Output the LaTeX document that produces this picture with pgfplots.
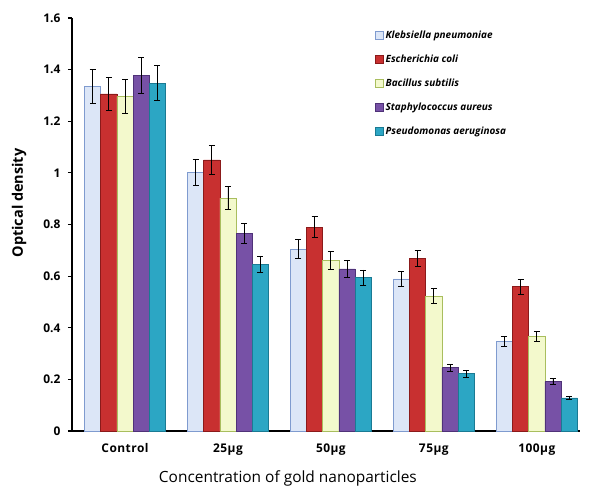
\documentclass[border=0pt]{standalone}
\usepackage{fontspec}
\setmainfont{Open Sans}
\usepackage{pgfplots}
\pgfplotsset{compat=1.18}
\usepackage{pgfplotstable}

\definecolor{Kf}{HTML}{DCE6F7}\definecolor{Kd}{HTML}{7F9BCF}
\definecolor{Ef}{HTML}{C83030}\definecolor{Ed}{HTML}{8B1A1A}
\definecolor{Bf}{HTML}{F3F9CC}\definecolor{Bd}{HTML}{A9BE5E}
\definecolor{Sf}{HTML}{7751A6}\definecolor{Sd}{HTML}{4F3278}
\definecolor{Pf}{HTML}{2CA6C4}\definecolor{Pd}{HTML}{1A7A93}

\pgfplotstableread{
x y e
0 1.334 0.066
1 1.003 0.050
2 0.704 0.037
3 0.589 0.030
4 0.346 0.019
}\tabK
\pgfplotstableread{
x y e
0 1.306 0.064
1 1.050 0.056
2 0.790 0.040
3 0.670 0.031
4 0.559 0.028
}\tabE
\pgfplotstableread{
x y e
0 1.296 0.066
1 0.902 0.045
2 0.660 0.035
3 0.523 0.028
4 0.368 0.019
}\tabB
\pgfplotstableread{
x y e
0 1.377 0.070
1 0.766 0.038
2 0.628 0.032
3 0.245 0.014
4 0.191 0.011
}\tabS
\pgfplotstableread{
x y e
0 1.348 0.068
1 0.646 0.032
2 0.594 0.030
3 0.222 0.013
4 0.128 0.007
}\tabP

\begin{document}
\begin{tikzpicture}
\begin{axis}[
  scale only axis,
  width=508bp, height=413bp,
  ybar=0pt, bar width=16.2bp,
  xmin=-0.515, xmax=4.42,
  ymin=0, ymax=1.6,
  axis x line=bottom, axis y line=left,
  axis line style={line width=2bp,-},
  xtick={0,1,2,3,4},
  xticklabels={Control,25µg,50µg,75µg,100µg},
  x tick style={draw=none},
  ytick={0,0.2,...,1.6},
  yticklabels={0,0.2,0.4,0.6,0.8,1,1.2,1.4,1.6},
  tick align=outside,
  y tick style={line width=1.2bp,black},
  major tick length=4bp,
  /pgf/number format/assume math mode=true,
  yticklabel style={font=\bfseries\fontsize{12}{14}\selectfont, xshift=-4bp},
  xticklabel style={font=\bfseries\fontsize{12}{14}\selectfont\addfontfeatures{LetterSpace=4}, yshift=-5bp},
  xlabel={Concentration of gold nanoparticles},
  ylabel={Optical density},
  every axis x label/.style={at={(axis description cs:0.425,-0.116)}, anchor=center, font=\fontsize{15.5}{17}\selectfont},
  every axis y label/.style={at={(axis description cs:-0.104,0.552)}, anchor=center, rotate=90, font=\bfseries\fontsize{14.5}{16}\selectfont},
  legend style={at={(axis description cs:0.59,0.98)}, anchor=north west, draw=none, fill=none,
    font=\bfseries\itshape\fontsize{10}{11}\selectfont, row sep=11bp},
  legend cell align=left,
  legend image code/.code={\draw[#1] (0bp,-4bp) rectangle (8bp,4bp);},
  error bars/error bar style={line width=0.8bp,black},
  error bars/error mark options={rotate=90,mark size=3bp,line width=0.8bp,black},
]
\addplot[draw=Kd, line width=0.7bp, fill=Kf,
  error bars/.cd, y dir=both, y explicit] table[x=x,y=y,y error=e]{\tabK};
\addlegendentry{Klebsiella pneumoniae}
\addplot[draw=Ed, line width=0.7bp, fill=Ef,
  error bars/.cd, y dir=both, y explicit] table[x=x,y=y,y error=e]{\tabE};
\addlegendentry{Escherichia coli}
\addplot[draw=Bd, line width=0.7bp, fill=Bf,
  error bars/.cd, y dir=both, y explicit] table[x=x,y=y,y error=e]{\tabB};
\addlegendentry{Bacillus subtilis}
\addplot[draw=Sd, line width=0.7bp, fill=Sf,
  error bars/.cd, y dir=both, y explicit] table[x=x,y=y,y error=e]{\tabS};
\addlegendentry{Staphylococcus aureus}
\addplot[draw=Pd, line width=0.7bp, fill=Pf,
  error bars/.cd, y dir=both, y explicit] table[x=x,y=y,y error=e]{\tabP};
\addlegendentry{Pseudomonas aeruginosa}
\end{axis}
\pgfresetboundingbox
\path (-72bp,-57bp) rectangle (519bp,431bp);
\end{tikzpicture}
\end{document}
